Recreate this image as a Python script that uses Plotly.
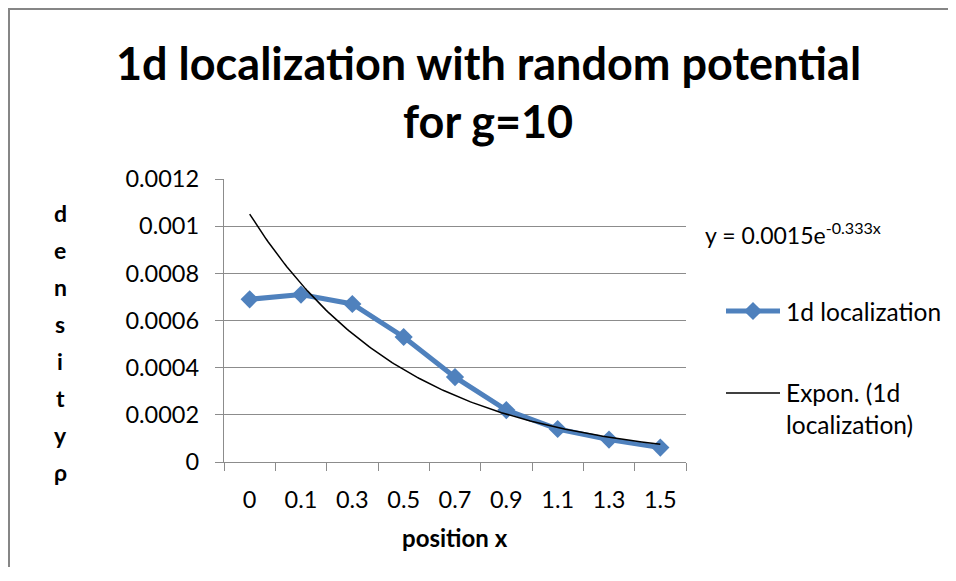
import numpy as np
import plotly.graph_objects as go

# ---- data ----
categories = ["0", "0.1", "0.3", "0.5", "0.7", "0.9", "1.1", "1.3", "1.5"]
density = [0.00069, 0.00071, 0.00067, 0.00053, 0.00036, 0.00022, 0.00014, 0.000095, 0.000061]
y_ticks = [0, 0.0002, 0.0004, 0.0006, 0.0008, 0.001, 0.0012]
y_tick_labels = ["0", "0.0002", "0.0004", "0.0006", "0.0008", "0.001", "0.0012"]
title_lines = ["1d localization with random potential", "for g=10"]
y_title = "densityρ"
x_title = "position x"
series_name = "1d localization"
trend_name = "Expon. (1d<br>localization)"
equation_text = "y = 0.0015e<sup>-0.333x</sup>"

# ---- layout geometry (window pixels); page body has an 8px margin ----
OFF = 8
W, H = 956 - 2 * OFF, 581 - 2 * OFF - 6
PL, PR, PT, PB = 224, 686, 179, 462  # plot area edges in window pixels
pw, ph = PR - PL, PB - PT


def px(x):
    return (x - PL) / pw


def py(y):
    return (PB - y) / ph


FONT = "Lato"
BLUE = "#4F81BD"
GRID = "#8c8c8c"
LINE_W = 5
MARKER_SIZE = 14

idx = np.arange(len(categories))
# Excel-style exponential trendline fitted on category index (1..n)
b, ln_a = np.polyfit(idx + 1, np.log(density), 1)
xt = np.linspace(0, len(categories) - 1, 200)
yt = np.exp(ln_a) * np.exp(b * (xt + 1))

fig = go.Figure()
fig.add_trace(go.Scatter(
    x=idx, y=density, mode="lines+markers", name=series_name,
    line=dict(color=BLUE, width=LINE_W),
    marker=dict(symbol="diamond", size=MARKER_SIZE, color=BLUE),
))
fig.add_trace(go.Scatter(
    x=xt, y=yt, mode="lines", name=trend_name,
    line=dict(color="black", width=1.5),
))

n = len(categories)
fig.update_layout(
    width=W, height=H,
    margin=dict(l=PL - OFF, r=W - (PR - OFF), t=PT - OFF, b=H - (PB - OFF)),
    paper_bgcolor="white", plot_bgcolor="white",
    font=dict(family=FONT, color="black", size=22),
    showlegend=False,
    xaxis=dict(
        range=[-0.5, n - 0.5], tickmode="array",
        tickvals=list(idx), ticktext=categories, ticks="",
        tickfont=dict(family=FONT, size=23.5, color="black"),
        ticklabelstandoff=17,
        minor=dict(tickmode="array", tickvals=[i - 0.5 for i in range(n + 1)],
                   ticks="outside", ticklen=8, tickcolor=GRID, tickwidth=1.3,
                   showgrid=False),
        showgrid=False, showline=True, linecolor=GRID, linewidth=1.3,
        zeroline=False,
    ),
    yaxis=dict(
        range=[0, 0.0012], tickmode="array", tickvals=y_ticks, ticktext=y_tick_labels,
        ticks="outside", ticklen=8, tickcolor=GRID, tickwidth=1.3,
        showgrid=True, gridcolor=GRID, gridwidth=1.3,
        showline=True, linecolor=GRID, linewidth=1.3, zeroline=False,
        tickfont=dict(family=FONT, size=23.5, color="black"),
        ticklabelstandoff=11,
    ),
)

annotations = []
for line, ypix in zip(title_lines, [63, 121]):
    annotations.append(dict(
        text=f"<b>{line}</b>", x=px(488), y=py(ypix), xref="paper", yref="paper",
        xanchor="center", yanchor="middle", showarrow=False,
        font=dict(family=FONT, size=45, color="black"),
    ))
for i, ch in enumerate(y_title):
    annotations.append(dict(
        text=f"<b>{ch}</b>", x=px(60), y=py(213 + i * 37), xref="paper", yref="paper",
        xanchor="center", yanchor="middle", showarrow=False,
        font=dict(family=FONT, size=23, color="black"),
    ))
annotations.append(dict(
    text=f"<b>{x_title}</b>", x=px(455), y=py(537), xref="paper", yref="paper",
    xanchor="center", yanchor="middle", showarrow=False,
    font=dict(family=FONT, size=24, color="black"),
))
annotations.append(dict(
    text=equation_text, x=px(703), y=py(233), xref="paper", yref="paper",
    xanchor="left", yanchor="middle", showarrow=False,
    font=dict(family=FONT, size=23, color="black"),
))

# ---- legend (drawn by hand, Excel style, using the traces' names and styles) ----
LEG_X0, LEG_X1, LEG_TX = 726, 780, 784
leg_rows = [(series_name, 311), (trend_name, 393)]
annotations.append(dict(
    text=series_name, x=px(LEG_TX), y=py(leg_rows[0][1]), xref="paper", yref="paper",
    xanchor="left", yanchor="middle", showarrow=False,
    font=dict(family=FONT, size=24.5, color="black"),
))
annotations.append(dict(
    text=trend_name, x=px(LEG_TX), y=py(leg_rows[1][1] - 17), xref="paper", yref="paper",
    xanchor="left", yanchor="top", align="left", showarrow=False,
    font=dict(family=FONT, size=24.5, color="black"),
))
fig.update_layout(annotations=annotations)

ly = py(leg_rows[0][1])
fig.add_shape(type="line", xref="paper", yref="paper",
              x0=px(LEG_X0), x1=px(LEG_X1), y0=ly, y1=ly,
              line=dict(color=BLUE, width=LINE_W))
cx = px((LEG_X0 + LEG_X1) / 2)
hw = 9.1 / pw
hh = 9.1 / ph
fig.add_shape(type="path", xref="paper", yref="paper",
              path=f"M {cx - hw} {ly} L {cx} {ly + hh} L {cx + hw} {ly} L {cx} {ly - hh} Z",
              fillcolor=BLUE, line=dict(color=BLUE, width=0))
ly2 = py(leg_rows[1][1])
fig.add_shape(type="line", xref="paper", yref="paper",
              x0=px(LEG_X0), x1=px(LEG_X1), y0=ly2, y1=ly2,
              line=dict(color="black", width=1.5))

# outer chart frame: only its left and top edges fall inside the picture
FRAME = "#868686"
fig.add_shape(type="line", xref="paper", yref="paper",
              x0=px(9), x1=px(9), y0=py(9), y1=py(600),
              line=dict(color=FRAME, width=2), layer="below")
fig.add_shape(type="line", xref="paper", yref="paper",
              x0=px(8), x1=px(1000), y0=py(9), y1=py(9),
              line=dict(color=FRAME, width=2), layer="below")

fig.write_html("out.html")
